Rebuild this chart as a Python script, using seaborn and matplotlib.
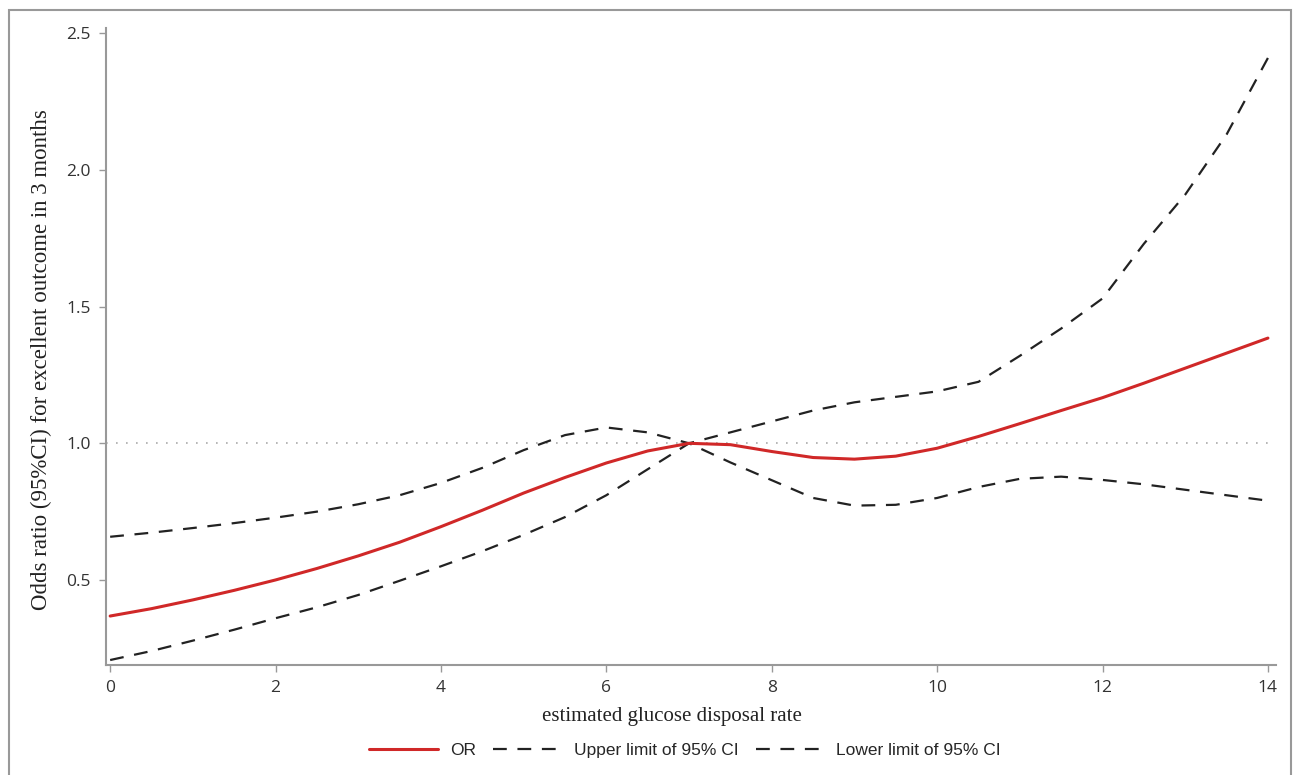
import numpy as np
import pandas as pd
import matplotlib
matplotlib.use("Agg")
import matplotlib.pyplot as plt
import matplotlib.patches as mpatches
import seaborn as sns

# data
egdr = [0, 0.5, 1, 1.5, 2, 2.5, 3, 3.5, 4, 4.5, 5, 5.5, 6, 6.5, 7,
        7.5, 8, 8.5, 9, 9.5, 10, 10.5, 11, 11.5, 12, 12.5, 13, 13.5, 14]
odds_ratio = [0.368, 0.395, 0.427, 0.462, 0.500, 0.542, 0.588, 0.638, 0.695, 0.755,
              0.818, 0.875, 0.928, 0.972, 1.000, 0.995, 0.970, 0.948, 0.942, 0.953,
              0.982, 1.025, 1.072, 1.120, 1.167, 1.220, 1.275, 1.330, 1.385]
upper_ci = [0.658, 0.673, 0.690, 0.708, 0.728, 0.750, 0.777, 0.810, 0.855, 0.910,
            0.975, 1.030, 1.058, 1.040, 1.000, 1.040, 1.080, 1.120, 1.150, 1.170,
            1.190, 1.225, 1.320, 1.420, 1.530, 1.730, 1.910, 2.130, 2.410]
lower_ci = [0.207, 0.240, 0.278, 0.318, 0.360, 0.400, 0.445, 0.497, 0.550, 0.605,
            0.665, 0.730, 0.810, 0.905, 1.000, 0.930, 0.865, 0.800, 0.772, 0.775,
            0.800, 0.840, 0.870, 0.878, 0.866, 0.850, 0.830, 0.810, 0.790]

y_ticks = [0.5, 1.0, 1.5, 2.0, 2.5]
x_ticks = [0, 2, 4, 6, 8, 10, 12, 14]

df = pd.DataFrame({'egdr': egdr, 'OR': odds_ratio, 'upper': upper_ci, 'lower': lower_ci})

sns.set_style("ticks")
plt.rcParams['font.family'] = ['Open Sans', 'DejaVu Sans']

fig = plt.figure(figsize=(12.93, 7.75), dpi=100)
ax = fig.add_axes([0.082, 0.142, 0.905, 0.822])

# reference line at OR = 1
ax.axhline(1.0, color='#aaaaaa', linestyle=(0, (1, 5)), linewidth=1.2, zorder=1)

dash = (0, (6.2, 4.8))
sns.lineplot(data=df, x='egdr', y='upper', color='#222222', linewidth=1.6,
             linestyle=dash, ax=ax, label='Upper limit of 95% CI')
sns.lineplot(data=df, x='egdr', y='lower', color='#222222', linewidth=1.6,
             linestyle=dash, ax=ax, label='Lower limit of 95% CI')
sns.lineplot(data=df, x='egdr', y='OR', color='#d02828', linewidth=2.2,
             ax=ax, label='OR', zorder=5)

ax.set_xlim(-0.05, 14.1)
ax.set_ylim(0.189, 2.52)
ax.set_xticks(x_ticks)
ax.set_yticks(y_ticks)
ax.set_yticklabels([f"{v:.1f}" for v in y_ticks])

for s in ['top', 'right']:
    ax.spines[s].set_visible(False)
for s in ['left', 'bottom']:
    ax.spines[s].set_color('#999999')
    ax.spines[s].set_linewidth(1.5)
ax.tick_params(axis='both', colors='#999999', labelcolor='#333333',
               labelsize=12.5, length=5, width=1, pad=6)

ax.set_xlabel('estimated glucose disposal rate', family='Liberation Serif',
              fontsize=15, color='#222222')
ax.set_ylabel('Odds ratio (95%CI) for excellent outcome in 3 months',
              family='Liberation Serif', fontsize=16.5, color='#222222')
ax.xaxis.set_label_coords(0.484, -0.066)
ax.yaxis.set_label_coords(-0.046, 0.479)

# legend in the order OR, upper, lower
handles, labels = ax.get_legend_handles_labels()
order = [labels.index('OR'), labels.index('Upper limit of 95% CI'),
         labels.index('Lower limit of 95% CI')]
ax.get_legend().remove()
fig.legend([handles[i] for i in order], [labels[i] for i in order],
           loc='center', bbox_to_anchor=(685 / 1293, 1 - 750 / 775), ncol=3,
           frameon=False, handlelength=4.0, columnspacing=1.0, handletextpad=0.65,
           prop={'family': 'Liberation Sans', 'size': 12.5})

# grey outer frame
fig.patches.append(mpatches.Rectangle((9 / 1293, -0.01), 1282 / 1293, 1 - 10 / 775 + 0.01,
                                      transform=fig.transFigure, fill=False,
                                      edgecolor='#999999', linewidth=1.5))

fig.savefig('out.png', dpi=100, facecolor='white')
